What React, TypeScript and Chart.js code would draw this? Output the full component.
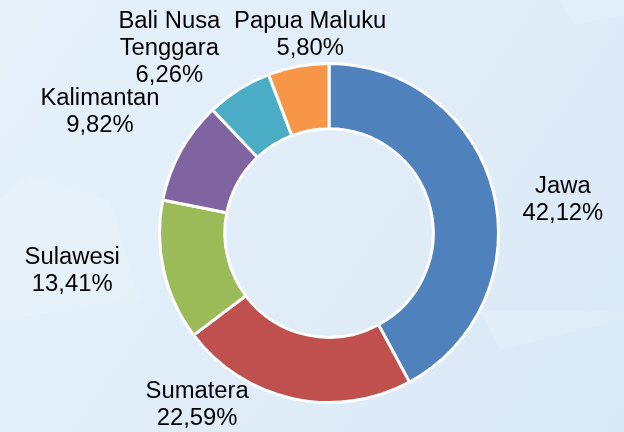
import React, { useEffect, useRef } from "react";
import { Chart, registerables } from "chart.js";

Chart.register(...registerables);

const regions = ["Jawa", "Sumatera", "Sulawesi", "Kalimantan", "Bali Nusa Tenggara", "Papua Maluku"];
const shares = [42.12, 22.59, 13.41, 9.82, 6.26, 5.8];
const labelLines = [
  ["Jawa", "42,12%"],
  ["Sumatera", "22,59%"],
  ["Sulawesi", "13,41%"],
  ["Kalimantan", "9,82%"],
  ["Bali Nusa", "Tenggara", "6,26%"],
  ["Papua Maluku", "5,80%"],
];
const sliceColors = ["#4F81BD", "#C0504D", "#9BBB59", "#8064A2", "#4BACC6", "#F79646"];

// label block centre offsets, in units of outer radius from the doughnut centre
const labelOffsets: [number, number][] = [
  [1.38, -0.196],
  [-0.778, 1.015],
  [-1.515, 0.225],
  [-1.351, -0.711],
  [-0.942, -1.088],
  [-0.111, -1.167],
];

const backgroundPlugin = {
  id: "bgPlugin",
  beforeDraw(chart: any) {
    const { ctx, width, height } = chart;
    ctx.save();
    const g = ctx.createLinearGradient(0, 0, width, height);
    g.addColorStop(0, "#E6F1FA");
    g.addColorStop(1, "#DAE9F7");
    ctx.fillStyle = g;
    ctx.fillRect(0, 0, width, height);
    ctx.fillStyle = "rgba(255,255,255,0.12)";
    ctx.beginPath();
    ctx.moveTo(0, 200);
    ctx.lineTo(30, 175);
    ctx.lineTo(110, 200);
    ctx.lineTo(140, 300);
    ctx.lineTo(0, 320);
    ctx.closePath();
    ctx.fill();
    ctx.beginPath();
    ctx.moveTo(560, 0);
    ctx.lineTo(624, 0);
    ctx.lineTo(624, 15);
    ctx.lineTo(575, 25);
    ctx.closePath();
    ctx.fill();
    ctx.beginPath();
    ctx.moveTo(480, 310);
    ctx.lineTo(624, 310);
    ctx.lineTo(624, 320);
    ctx.lineTo(500, 350);
    ctx.closePath();
    ctx.fill();
    ctx.restore();
  },
};

const labelPlugin = {
  id: "labelPlugin",
  afterDatasetsDraw(chart: any) {
    const meta = chart.getDatasetMeta(0);
    const ctx = chart.ctx;
    const first = meta.data[0];
    if (!first) return;
    const cx = first.x;
    const cy = first.y;
    const r = first.outerRadius;
    ctx.save();
    ctx.fillStyle = "#000000";
    ctx.font = "23px 'Liberation Sans', Arial, sans-serif";
    ctx.textAlign = "center";
    ctx.textBaseline = "middle";
    const lh = 27;
    const sx = 1.035;
    labelLines.forEach((lines, i) => {
      const [ox, oy] = labelOffsets[i];
      const x = cx + ox * r;
      const y0 = cy + oy * r - ((lines.length - 1) * lh) / 2;
      lines.forEach((t, j) => {
        ctx.save();
        ctx.translate(x, y0 + j * lh);
        ctx.scale(sx, 1);
        ctx.fillText(t, 0, 0);
        ctx.restore();
      });
    });
    ctx.restore();
  },
};

export default function App() {
  const ref = useRef<HTMLCanvasElement>(null);
  useEffect(() => {
    const chart = new Chart(ref.current!, {
      type: "doughnut",
      data: {
        labels: regions,
        datasets: [
          {
            data: shares,
            backgroundColor: sliceColors,
            borderColor: "#FFFFFF",
            borderWidth: 3,
          },
        ],
      },
      options: {
        animation: false,
        responsive: false,
        cutout: "61.5%",
        layout: { padding: { left: 158, right: 124, top: 62, bottom: 28 } },
        plugins: { legend: { display: false }, tooltip: { enabled: false } },
      },
      plugins: [backgroundPlugin, labelPlugin],
    });
    return () => chart.destroy();
  }, []);
  return (
    <div style={{ position: "fixed", left: 0, top: 0, width: 624, height: 432 }}>
      <canvas ref={ref} width={624} height={432} style={{ width: 624, height: 432 }} />
    </div>
  );
}
